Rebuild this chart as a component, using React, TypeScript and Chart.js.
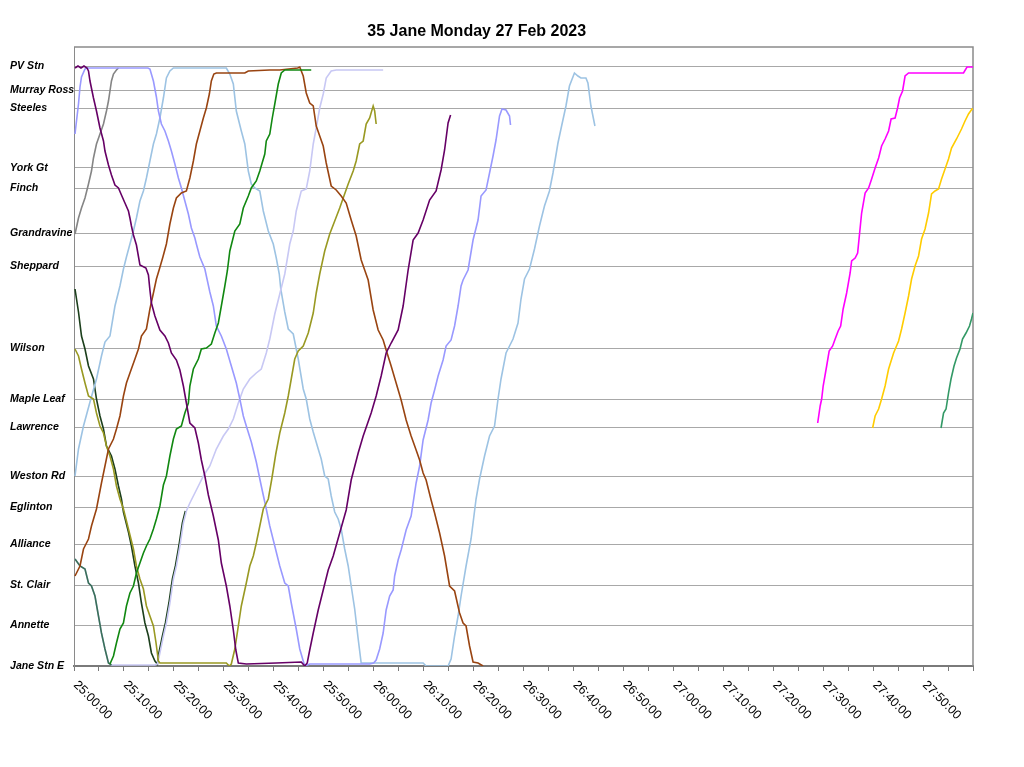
import React, { useEffect, useRef } from "react";
import { Chart, registerables } from "chart.js";

Chart.register(...registerables);

// ---------- chart text ----------
const TITLE = "35 Jane Monday 27 Feb 2023";

// ---------- stops (position along route, arbitrary units, Jane Stn E = 0) ----------
const STOP_NAMES = [
  "PV Stn", "Murray Ross", "Steeles", "York Gt", "Finch", "Grandravine", "Sheppard",
  "Wilson", "Maple Leaf", "Lawrence", "Weston Rd", "Eglinton", "Alliance", "St. Clair",
  "Annette", "Jane Stn E",
];
const STOP_POS = [600, 575.5, 557.5, 498, 478, 433, 400, 317.5, 267, 239, 190, 159, 122, 81, 41, 0];
const ROUTE_MAX = 619;

// ---------- time axis (minutes after 25:00:00) ----------
const BASE_HOUR = 25;
const T_MIN = 0;
const T_MAX = 180;
const TICK_STEP = 5;
const LABEL_STEP = 10;
const LABEL_LAST = 170;

// ---------- vehicle runs: [minutes after 25:00, position] ----------
const RUN_PURPLE: [number, number][] = [
  [0.2, 598], [0.8, 600], [1.4, 598], [2.0, 600], [2.6, 598], [2.9, 595], [3.2, 585], [3.9, 568], [4.5, 555],
  [5.2, 538], [5.9, 525], [6.2, 515], [6.9, 501], [7.5, 491], [8.2, 481], [8.9, 478], [9.5, 471], [10.2, 463],
  [10.9, 455], [11.2, 448], [11.5, 440], [11.9, 431], [12.5, 421], [13.2, 401], [14.4, 398], [14.9, 391],
  [15.2, 376], [15.5, 363], [16.2, 350], [17.2, 336], [18.2, 330], [18.9, 323], [19.5, 313], [20.5, 306],
  [21.2, 296], [21.9, 280], [22.5, 263], [23.2, 243], [24.2, 238], [24.9, 223], [25.5, 206], [26.2, 190],
  [26.9, 171], [27.9, 150], [28.9, 126], [29.5, 103], [30.5, 80], [31.2, 60], [31.9, 36], [32.4, 16], [32.9, 3],
  [34.5, 2], [40.5, 3], [45.5, 4], [46.2, 0], [46.7, 3], [47.2, 16], [47.9, 33], [48.9, 56], [49.9, 76],
  [50.9, 96], [51.9, 110], [53.2, 133], [54.5, 156], [55.5, 186], [56.9, 213], [57.9, 230], [59.5, 253],
  [60.5, 270], [61.5, 290], [62.5, 313], [63.5, 323], [64.9, 336], [65.9, 360], [66.9, 396], [67.9, 426],
  [68.9, 433], [69.9, 446], [71.2, 466], [72.5, 475], [73.5, 496], [74.2, 516], [74.9, 543], [75.4, 551],
];

const RUN_LAVENDER: [number, number][] = [
  [0.2, 532], [0.5, 545], [0.9, 562], [1.2, 579], [1.5, 589], [2.2, 597], [2.5, 598], [14.8, 598], [15.2, 597],
  [15.9, 585], [16.5, 569], [16.9, 555], [17.5, 542], [18.2, 535], [18.9, 525], [19.5, 515], [20.2, 502],
  [20.9, 488], [21.5, 478], [22.2, 465], [22.9, 452], [23.5, 438], [24.2, 428], [24.5, 422], [25.2, 409],
  [26.2, 397], [27.2, 374], [27.9, 360], [28.5, 340], [29.5, 330], [30.5, 317], [31.5, 300], [32.5, 283],
  [33.2, 267], [33.9, 250], [34.5, 240], [35.5, 224], [36.5, 204], [37.5, 180], [38.5, 157], [39.2, 140],
  [40.2, 120], [41.2, 100], [42.2, 83], [42.9, 80], [43.5, 63], [44.5, 37], [45.2, 17], [45.9, 5], [46.2, 0],
  [47.2, 2], [53.2, 2], [59.2, 2], [60.0, 3], [60.5, 6], [61.2, 17], [61.9, 33], [62.5, 56], [63.2, 70],
  [63.9, 76], [64.2, 90], [64.9, 106], [65.5, 116], [66.2, 130], [66.5, 136], [67.5, 150], [68.5, 183],
  [69.2, 200], [69.9, 226], [70.9, 246], [71.5, 263], [72.2, 276], [72.9, 290], [73.9, 306], [74.5, 320],
  [75.5, 326], [76.2, 340], [76.9, 360], [77.5, 380], [77.9, 386], [78.9, 396], [79.9, 426], [80.9, 446],
  [81.5, 470], [82.5, 476], [83.2, 493], [83.9, 510], [84.5, 526], [85.2, 550], [85.7, 557], [86.5, 556],
  [87.2, 550], [87.4, 541],
];

const RUN_LIGHTBLUE: [number, number][] = [
  [0.2, 190], [0.9, 217], [1.9, 240], [3.2, 264], [4.5, 287], [5.5, 310], [6.2, 324], [7.2, 330], [8.2, 360],
  [9.2, 380], [9.9, 397], [10.5, 409], [11.2, 422], [11.9, 435], [12.5, 448], [13.2, 465], [13.9, 475],
  [14.5, 488], [15.2, 505], [15.9, 522], [16.5, 532], [17.2, 548], [17.9, 568], [18.5, 588], [19.2, 595],
  [19.9, 598], [30.5, 598], [31.2, 592], [31.9, 582], [32.5, 555], [33.5, 535], [34.2, 522], [34.9, 495],
  [35.5, 482], [36.2, 478], [37.2, 475], [37.9, 455], [38.9, 435], [39.9, 422], [40.5, 408], [41.1, 392],
  [41.4, 377], [42.2, 354], [42.9, 337], [43.9, 332], [44.9, 307], [45.9, 277], [46.5, 267], [47.2, 247],
  [47.9, 234], [48.9, 217], [49.5, 207], [50.2, 190], [50.9, 187], [51.5, 170], [52.2, 154], [52.9, 147],
  [53.5, 137], [54.2, 117], [54.9, 100], [55.5, 80], [56.2, 57], [56.9, 27], [57.5, 3], [69.9, 3], [70.5, 0],
  [74.9, 0], [75.5, 7], [76.2, 30], [76.9, 50], [77.5, 70], [78.5, 100], [79.5, 127], [80.5, 167], [81.2, 187],
  [82.2, 210], [83.2, 230], [84.2, 240], [84.9, 267], [85.5, 287], [86.5, 313], [87.2, 320], [87.9, 327],
  [88.9, 343], [89.5, 367], [90.2, 387], [91.2, 397], [92.2, 417], [93.2, 440], [94.2, 460], [95.2, 475],
  [95.9, 493], [96.9, 523], [97.5, 537], [98.5, 560], [99.2, 580], [100.2, 593], [100.9, 590], [101.5, 588],
  [102.5, 588], [102.9, 583], [103.5, 560], [104.3, 540],
];

const RUN_GRAY: [number, number][] = [
  [0.2, 432], [0.9, 448], [1.5, 458], [2.2, 468], [2.9, 482], [3.5, 495], [3.9, 508], [4.5, 522], [5.2, 532],
  [5.9, 542], [6.5, 555], [6.9, 565], [7.2, 575], [7.5, 585], [7.9, 592], [8.5, 596], [8.9, 598],
];

const RUN_OLIVE: [number, number][] = [
  [0.2, 317], [0.9, 310], [1.5, 297], [2.2, 283], [2.9, 270], [3.9, 267], [4.5, 253], [5.2, 240], [5.9, 233],
  [6.5, 220], [7.2, 210], [7.9, 197], [8.5, 180], [9.2, 167], [9.9, 157], [10.9, 137], [11.9, 117], [12.5, 100],
  [13.2, 87], [13.9, 77], [14.5, 60], [15.2, 50], [15.9, 40], [16.4, 24], [16.9, 5], [17.2, 3], [30.5, 3],
  [31.1, 0], [31.5, 2], [32.2, 17], [32.9, 40], [33.5, 60], [34.5, 83], [35.2, 100], [35.9, 110], [36.5, 123],
  [37.2, 140], [37.9, 157], [38.9, 167], [39.6, 187], [40.4, 212], [41.2, 233], [42.2, 253], [42.9, 270],
  [43.5, 287], [44.2, 307], [44.9, 315], [45.9, 320], [46.9, 333], [47.9, 353], [48.5, 373], [49.2, 392],
  [50.2, 415], [51.2, 432], [52.2, 445], [53.2, 458], [53.9, 468], [54.9, 482], [55.9, 495], [56.5, 505],
  [57.2, 522], [57.9, 525], [58.5, 542], [59.2, 548], [59.9, 560], [60.2, 555], [60.5, 542],
];

const RUN_DARKGREEN: [number, number][] = [
  [0.2, 377], [0.9, 354], [1.5, 330], [2.2, 317], [2.9, 300], [3.9, 287], [4.5, 267], [5.2, 250], [5.9, 237],
  [6.5, 220], [7.5, 210], [8.2, 197], [8.9, 180], [9.5, 167], [9.9, 154], [10.9, 134], [11.5, 120], [12.2, 100],
  [12.9, 83], [13.5, 63], [14.2, 43], [14.9, 30], [15.5, 13], [16.2, 5], [16.7, 2], [17.0, 13], [17.7, 30],
  [18.3, 43], [19.0, 63], [19.7, 87], [20.3, 100], [21.0, 120], [21.7, 143], [22.3, 155],
];

const RUN_TEAL_EARLY: [number, number][] = [
  [0.2, 107], [1.2, 100], [2.2, 97], [2.9, 83], [3.5, 80], [4.2, 70], [4.9, 50], [5.5, 33], [6.2, 17],
  [6.9, 3], [7.5, 1],
];

const RUN_GREEN: [number, number][] = [
  [7.2, 2], [7.9, 10], [8.5, 23], [9.2, 37], [9.9, 43], [10.5, 60], [11.2, 73], [11.9, 80], [12.5, 93],
  [13.2, 103], [13.9, 113], [14.5, 120], [15.2, 127], [15.9, 137], [16.5, 147], [17.2, 160], [17.9, 181],
  [18.5, 190], [19.2, 210], [19.9, 227], [20.5, 237], [21.5, 240], [22.2, 253], [22.9, 263], [23.2, 280],
  [23.9, 297], [24.9, 307], [25.5, 317], [26.5, 318], [27.5, 322], [28.2, 333], [28.9, 343], [29.5, 360],
  [30.2, 380], [30.7, 395], [31.2, 415], [32.2, 435], [33.2, 442], [33.9, 458], [34.9, 470], [35.5, 478],
  [36.5, 485], [37.2, 495], [38.2, 512], [38.5, 525], [39.2, 532], [39.7, 548], [40.2, 562], [40.9, 582],
  [41.5, 593], [42.2, 596], [47.5, 596],
];

const RUN_BROWN: [number, number][] = [
  [0.2, 90], [1.2, 100], [1.9, 117], [2.9, 127], [3.5, 140], [4.5, 157], [5.5, 183], [6.2, 200], [6.9, 217],
  [7.9, 227], [8.5, 237], [9.2, 250], [9.9, 270], [10.5, 283], [11.2, 293], [12.2, 307], [12.9, 317],
  [13.5, 330], [14.5, 337], [15.2, 357], [15.9, 373], [16.5, 387], [17.1, 397], [17.8, 409], [18.5, 422],
  [19.2, 442], [19.9, 458], [20.5, 468], [21.5, 473], [22.5, 475], [23.2, 488], [23.9, 505], [24.5, 522],
  [25.2, 535], [25.9, 548], [26.5, 558], [27.1, 572], [27.5, 585], [28.0, 592], [28.5, 593], [34.2, 593],
  [34.9, 595], [39.2, 596], [41.2, 596], [44.8, 598], [45.2, 599], [45.9, 590], [46.5, 573], [47.2, 563],
  [47.9, 560], [48.5, 540], [49.2, 530], [49.9, 520], [50.5, 503], [51.5, 480], [52.5, 476], [53.5, 470],
  [54.5, 463], [55.5, 446], [56.5, 430], [57.5, 406], [58.2, 396], [58.9, 386], [59.9, 356], [60.9, 336],
  [61.9, 326], [62.5, 316], [63.5, 300], [64.5, 283], [65.5, 266], [66.5, 246], [67.5, 230], [68.5, 216],
  [69.2, 206], [69.9, 193], [70.5, 186], [71.5, 166], [72.2, 153], [73.2, 133], [74.2, 110], [75.2, 80],
  [76.2, 75], [77.2, 53], [77.9, 43], [78.5, 40], [79.2, 20], [79.9, 4], [80.9, 3], [81.9, 0],
];

const RUN_PALE: [number, number][] = [
  [0.2, 107], [1.2, 100], [2.2, 97], [2.9, 83], [3.5, 80], [4.2, 70], [4.9, 50], [5.5, 33], [6.2, 17], [6.9, 3],
  [7.5, 1], [16.2, 1], [16.7, 2], [17.2, 13], [17.9, 30], [18.5, 43], [19.2, 63], [19.9, 87], [20.5, 100],
  [21.2, 120], [21.9, 143], [22.5, 155], [23.2, 163], [24.2, 173], [25.2, 183], [25.9, 190], [27.2, 200],
  [28.5, 217], [29.9, 230], [30.9, 237], [31.9, 247], [32.9, 263], [33.9, 277], [35.2, 287], [36.5, 293],
  [37.5, 297], [38.5, 313], [39.2, 327], [40.2, 352], [41.2, 372], [42.2, 392], [43.2, 422], [43.9, 435],
  [44.5, 455], [45.5, 475], [46.5, 477], [47.2, 495], [47.9, 522], [48.5, 538], [49.2, 558], [49.9, 572],
  [50.5, 588], [51.5, 595], [52.5, 596], [61.9, 596],
];

const RUN_MAGENTA: [number, number][] = [
  [148.9, 243], [149.4, 260], [149.7, 267], [150.0, 280], [150.7, 300], [151.2, 315], [151.9, 320],
  [152.4, 327], [153.0, 335], [153.5, 340], [154.0, 357], [154.7, 373], [155.4, 393], [155.7, 405],
  [156.4, 408], [156.9, 413], [157.3, 433], [157.7, 453], [158.4, 473], [159.1, 478], [159.7, 487],
  [160.4, 498], [161.1, 508], [161.7, 520], [162.4, 527], [163.1, 535], [163.6, 547], [164.4, 548],
  [164.9, 558], [165.3, 568], [165.9, 575], [166.4, 590], [167.1, 593], [178.1, 593], [178.8, 599], [180, 599],
];

const RUN_GOLD: [number, number][] = [
  [159.9, 238], [160.4, 250], [161.1, 257], [161.7, 267], [162.4, 280], [163.1, 297], [164.1, 313],
  [165.1, 325], [165.7, 337], [166.4, 353], [167.1, 370], [167.7, 387], [168.4, 400], [169.1, 410],
  [169.7, 427], [170.4, 437], [171.1, 453], [171.7, 472], [172.4, 475], [173.1, 477], [173.7, 487],
  [174.4, 497], [175.1, 507], [175.7, 518], [176.7, 527], [177.7, 537], [178.4, 545], [179.1, 552],
  [179.8, 557], [180, 557],
];

const RUN_TEAL: [number, number][] = [
  [173.6, 238], [174.1, 253], [174.6, 257], [175.1, 273], [175.6, 287], [176.2, 300], [176.7, 308],
  [177.4, 317], [177.9, 327], [178.6, 333], [179.3, 340], [179.7, 347], [180, 353],
];

// first in the list is drawn on top
const SERIES_RUNS = [
  RUN_PURPLE, RUN_GREEN, RUN_BROWN, RUN_OLIVE, RUN_TEAL_EARLY, RUN_LAVENDER, RUN_PALE,
  RUN_LIGHTBLUE, RUN_DARKGREEN, RUN_GRAY, RUN_MAGENTA, RUN_GOLD, RUN_TEAL,
];
const SERIES_NAMES = [
  "Run 1", "Run 2", "Run 3", "Run 4", "Run 5", "Run 6", "Run 7", "Run 8", "Run 9", "Run 10",
  "Run 11", "Run 12", "Run 13",
];
const SERIES_COLORS = [
  "#660066", "#118811", "#994411", "#999922", "#3a7058", "#9999ff", "#c8c8f4",
  "#9dc3e3", "#1c3f1c", "#858585", "#ff00ff", "#ffcc00", "#339966",
];

// ---------- styling ----------
const FONT = "Arial, 'Liberation Sans', sans-serif";
const FRAME_COLOR = "#8a8a8a";
const GRID_COLOR = "#a8a8a8";

const fmtTime = (t: number) => {
  const total = BASE_HOUR * 60 + t;
  const h = Math.floor(total / 60);
  const m = Math.round(total - h * 60);
  return `${h}:${String(m).padStart(2, "0")}:00`;
};

const overlayPlugin = {
  id: "stringlineOverlay",
  beforeDatasetsDraw(chart: any) {
    const { ctx, chartArea: a } = chart;
    ctx.save();
    ctx.strokeStyle = FRAME_COLOR;
    ctx.lineWidth = 1.5;
    ctx.beginPath();
    ctx.moveTo(a.left, a.top);
    ctx.lineTo(a.right, a.top);
    ctx.lineTo(a.right, a.bottom);
    ctx.stroke();
    ctx.restore();
  },
  afterDraw(chart: any) {
    const { ctx, chartArea: a, scales } = chart;
    ctx.save();
    ctx.fillStyle = "#000";
    ctx.font = `bold 16px ${FONT}`;
    ctx.textAlign = "center";
    ctx.textBaseline = "middle";
    ctx.fillText(TITLE, a.left + (a.right - a.left) * 0.448, a.top - 15);
    ctx.font = `12.5px ${FONT}`;
    ctx.textAlign = "left";
    for (let t = T_MIN; t <= LABEL_LAST; t += LABEL_STEP) {
      const px = scales.x.getPixelForValue(t);
      ctx.save();
      ctx.translate(px + 1.5, a.bottom + 17);
      ctx.rotate(Math.PI / 4);
      ctx.fillText(fmtTime(t), 0, 0);
      ctx.restore();
    }
    ctx.restore();
  },
};

export default function App() {
  const ref = useRef<HTMLCanvasElement>(null);

  useEffect(() => {
    if (!ref.current) return;
    const chart = new Chart(ref.current, {
      type: "line",
      data: {
        datasets: SERIES_RUNS.map((run, i) => ({
          label: SERIES_NAMES[i],
          data: run.map(([x, y]) => ({ x, y })),
          borderColor: SERIES_COLORS[i],
          backgroundColor: SERIES_COLORS[i],
          borderWidth: 1.6,
          pointRadius: 0,
          fill: false,
          tension: 0,
        })),
      },
      options: {
        animation: false,
        responsive: false,
        layout: { padding: { left: 2, right: 43, top: 39, bottom: 0 } },
        plugins: {
          legend: { display: false },
          title: { display: false },
          tooltip: { enabled: false },
        },
        scales: {
          x: {
            type: "linear",
            min: T_MIN,
            max: T_MAX,
            afterBuildTicks: (s: any) => {
              const ticks = [];
              for (let t = T_MIN; t <= T_MAX; t += TICK_STEP) ticks.push({ value: t });
              s.ticks = ticks;
            },
            afterFit: (s: any) => {
              s.height = 93;
            },
            ticks: { display: false },
            grid: {
              drawOnChartArea: false,
              drawTicks: true,
              tickLength: 5,
              color: "#7a7a7a",
              tickColor: "#7a7a7a",
            },
            border: { color: "#7a7a7a", width: 2 },
          },
          y: {
            type: "linear",
            min: 0,
            max: ROUTE_MAX,
            afterBuildTicks: (s: any) => {
              s.ticks = STOP_POS.map((v) => ({ value: v }));
            },
            afterFit: (s: any) => {
              s.width = 64;
            },
            ticks: {
              autoSkip: false,
              crossAlign: "far",
              color: "#000",
              font: { family: FONT, size: 10.6, style: "italic", weight: "bold" },
              callback: (v: any) => STOP_NAMES[STOP_POS.indexOf(Number(v))] ?? "",
            },
            grid: { color: GRID_COLOR, drawTicks: false, lineWidth: 1 },
            border: { color: "#8a8a8a", width: 1 },
          },
        },
      },
      plugins: [overlayPlugin],
    } as any);
    return () => chart.destroy();
  }, []);

  return <canvas ref={ref} width={1008} height={751} style={{ display: "block" }} />;
}
